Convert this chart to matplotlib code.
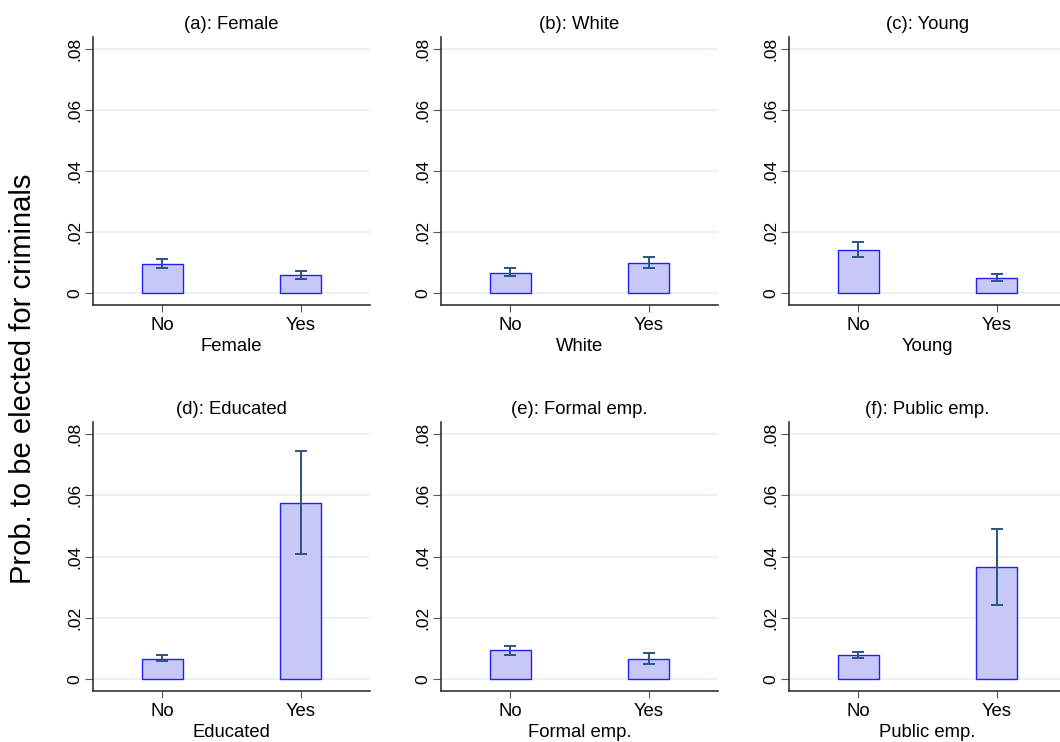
import matplotlib
matplotlib.use("Agg")
import matplotlib.pyplot as plt
import numpy as np

plt.rcParams["font.family"] = ["Liberation Sans", "DejaVu Sans"]

PANELS = ["(a): Female", "(b): White", "(c): Young",
          "(d): Educated", "(e): Formal emp.", "(f): Public emp."]
XLABELS = ["Female", "White", "Young", "Educated", "Formal emp.", "Public emp."]
CATS = ["No", "Yes"]

# mean and 95% CI per panel (No, Yes)
means = [[0.0095, 0.0059], [0.0067, 0.0100], [0.0141, 0.0050],
         [0.0067, 0.0574], [0.0094, 0.0067], [0.0077, 0.0365]]
lo = [[0.0081, 0.0046], [0.0056, 0.0083], [0.0119, 0.0040],
      [0.0059, 0.0407], [0.0080, 0.0049], [0.0068, 0.0243]]
hi = [[0.0111, 0.0073], [0.0081, 0.0119], [0.0166, 0.0061],
      [0.0077, 0.0745], [0.0109, 0.0085], [0.0089, 0.0491]]
YTICKS = [0, 0.02, 0.04, 0.06, 0.08]
YTICKLABELS = ["0", ".02", ".04", ".06", ".08"]

W, H = 1060, 742
fig = plt.figure(figsize=(W / 100, H / 100), dpi=100)

lefts = [93, 441, 789]
tops = [37, 422]
bottoms = [305, 691]
aw = 277

bar_face = "#c8c8f8"
bar_edge = "#2020ff"
err_col = "#2a5580"
grid_col = "#e8eef2"
spine_col = "#333333"

for k in range(6):
    r, c = divmod(k, 3)
    x0 = lefts[c]
    ax = fig.add_axes([x0 / W, 1 - bottoms[r] / H, aw / W, (bottoms[r] - tops[r]) / H])
    x = np.arange(2)
    m = np.array(means[k])
    ax.bar(x, m, 0.295, color=bar_face, edgecolor=bar_edge, lw=1.0, zorder=2)
    yerr = np.array([m - np.array(lo[k]), np.array(hi[k]) - m])
    ax.errorbar(x, m, yerr=yerr, fmt="none", ecolor=err_col, elinewidth=1.4,
                capsize=4, capthick=1.4, zorder=3)
    ax.set_xlim(-0.5, 1.5)
    ax.set_ylim(-0.0039, 0.0839)
    ax.set_yticks(YTICKS)
    ax.set_yticklabels(YTICKLABELS, rotation=90, va="center", fontsize=12.5)
    ax.set_xticks(x)
    ax.set_xticklabels(CATS, fontsize=13.3)
    ax.grid(axis="y", color=grid_col, lw=1.2, zorder=0)
    ax.set_axisbelow(True)
    for s in ["top", "right"]:
        ax.spines[s].set_visible(False)
    for s in ["left", "bottom"]:
        ax.spines[s].set_color(spine_col)
        ax.spines[s].set_linewidth(1.2)
    ax.tick_params(axis="y", length=6, color="#555555", pad=1.5)
    ax.tick_params(axis="x", length=5, color="#555555", pad=3.5)
    ax.set_title(PANELS[k], fontsize=13.3, pad=6)
    ax.set_xlabel(XLABELS[k], fontsize=13.3, labelpad=3)

fig.text(0.022, 1 - 379 / H, "Prob. to be elected for criminals",
         rotation=90, va="center", ha="center", fontsize=21)

fig.savefig("out.png", dpi=100)
